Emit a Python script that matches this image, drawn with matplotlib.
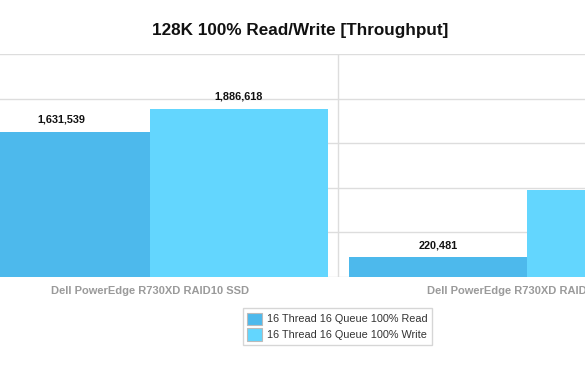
import numpy as np
import matplotlib.pyplot as plt

plt.rcParams['font.family'] = ['Liberation Sans', 'DejaVu Sans']

# data
categories = ['Dell PowerEdge R730XD RAID10 SSD', 'Dell PowerEdge R730XD RAID10 HDD']
series_names = ['16 Thread 16 Queue 100% Read', '16 Thread 16 Queue 100% Write']
read_vals = [1631539, 220481]
write_vals = [1886618, 975000]
colors = ['#4db9ec', '#63d6fe']

f = plt.figure(figsize=(5.85, 3.72), dpi=100)
ax = f.add_axes([0, 0.256, 1, 0.598])

x = np.arange(len(categories))
w = 0.472
b1 = ax.bar(x - w/2, read_vals, w, color=colors[0], edgecolor='none', zorder=2, label=series_names[0])
b2 = ax.bar(x + w/2, write_vals, w, color=colors[1], edgecolor='none', zorder=2, label=series_names[1])

# value labels above bars
for bars, vals in [(b1, read_vals), (b2, write_vals)]:
    for r, v in zip(bars, vals):
        ax.annotate('{:,}'.format(v), (r.get_x() + r.get_width()/2, v),
                    xytext=(0, 5), textcoords='offset points', ha='center', va='bottom',
                    fontsize=7.8, fontweight='bold', color='#111111', annotation_clip=False)

ax.set_ylim(0, 2500000)
ax.set_xlim(-0.398, 1.154)
ax.set_yticks(np.arange(0, 2500001, 500000))
ax.yaxis.grid(True, color='#dddddd', linewidth=1, zorder=0)
ax.set_axisbelow(True)
for sep in [-0.5, 0.5, 1.5]:
    ax.axvline(sep, color='#dddddd', linewidth=1, zorder=0)
for s in ax.spines.values():
    s.set_visible(False)
ax.tick_params(left=False, bottom=False, labelleft=False)
ax.set_xticks(x)
ax.set_xticklabels(categories, fontsize=8, fontweight='bold', color='#9a9a9a')
ax.tick_params(axis='x', pad=3)

f.text(300.5/585, 1 - 30/372, '128K 100% Read/Write [Throughput]', ha='center', va='center',
       fontsize=12.3, fontweight='bold', color='#111111')

leg = f.legend(loc='center', bbox_to_anchor=(337.5/585, 1 - 326.7/372), fontsize=7.8,
               frameon=True, fancybox=False, edgecolor='#cccccc', handlelength=1.4,
               handleheight=1.4, borderpad=0.4, labelspacing=0.3, handletextpad=0.5)
for h in leg.legend_handles:
    h.set_edgecolor('#bbbbbb')
    h.set_linewidth(0.8)
for t in leg.get_texts():
    t.set_color('#333333')

f.savefig('out.png', dpi=100)
